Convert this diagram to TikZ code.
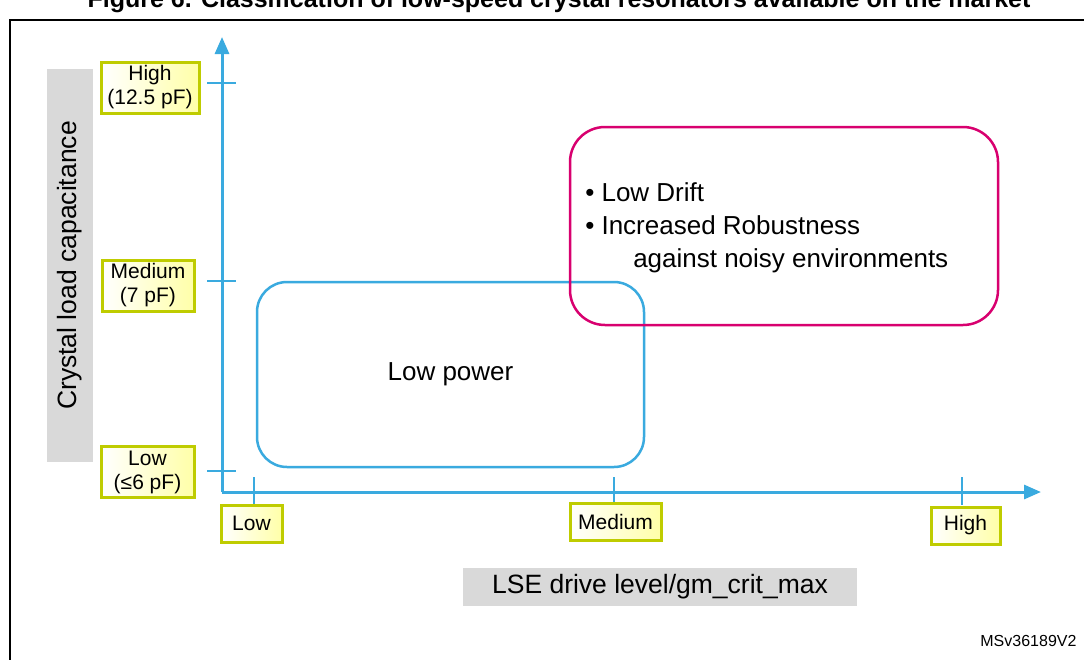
\documentclass[tikz,border=0pt]{standalone}
\usepackage{fontspec}
\setmainfont{Liberation Sans}
\usetikzlibrary{arrows.meta}

\definecolor{axisblue}{HTML}{3AAADF}
\definecolor{drivemagenta}{HTML}{D8006F}
\definecolor{tagolive}{HTML}{BFCC00}
\definecolor{tagyellow}{HTML}{FFFFA8}
\definecolor{titlegray}{HTML}{D9D9D9}

\tikzset{
	axis/.style={axisblue, line width=3pt, -{Triangle[length=17pt, width=14pt]}},
	tick/.style={axisblue, line width=2pt},
	tag/.style={draw=tagolive, line width=3pt, left color=white, right color=tagyellow,
		inner sep=0pt, align=center, font=\fontsize{21}{24}\selectfont},
	axistitle/.style={fill=titlegray, inner sep=0pt, font=\fontsize{26.5}{30}\selectfont},
	region/.style={line width=2.5pt, inner sep=0pt, font=\fontsize{26}{33}\selectfont},
}

\begin{document}
\begin{tikzpicture}[x=1pt, y=-1pt]
	\clip (0, 0) rectangle (1084, 659);
	\fill [white] (0, 0) rectangle (1084, 659);

	% Title and frame
	\node (title) [anchor=base, font=\bfseries\fontsize{25}{28}\selectfont]
	      at (559, 7)
	      {Figure 6. Classification of low-speed crystal resonators available on the market};
	\draw [line width=2pt] (10, 700) |- (1100, 20);

	% Axes
	\coordinate (origin) at (222, 492);
	\coordinate (ytop)   at (222, 37);
	\coordinate (xend)   at (1041, 492);
	\draw [axis] (origin) -- (ytop);
	\draw [axis] (origin) -- (xend);

	% Load capacitance ticks
	\foreach \y/\tx/\ty/\tw/\lab [count=\i] in
		{471/147.5/472/93/{Low\\(≤6 pF)},
		 281/148/285.5/92/{Medium\\(7 pF)},
		 83/150/87.5/98/{High\\(12.5 pF)}}{
		\draw [tick] (207, \y) -- (236, \y);
		\node (ylab\i) [tag, minimum width=\tw, minimum height=51]
		      at (\tx, \ty)
		      {\lab};
	}

	% Drive level ticks
	\foreach \x/\tx/\ty/\tw/\lab [count=\i] in
		{254/251.5/523.5/61/Low,
		 614/615.5/521.5/91/Medium,
		 962/965.5/525.5/69/High}{
		\draw [tick] (\x, 477) -- (\x, 505);
		\node (xlab\i) [tag, minimum width=\tw, minimum height=37]
		      at (\tx, \ty)
		      {\lab};
	}

	% Axis titles
	\node (ytitle) [axistitle, rotate=90, minimum width=393, minimum height=46]
	      at (70, 265.5)
	      {Crystal load capacitance};
	\node (xtitle) [axistitle, minimum width=394, minimum height=38]
	      at (660, 586.5)
	      {LSE drive level/gm\_crit\_max};

	% Regions
	\node (lowpower) [region, draw=axisblue, rounded corners=30pt,
	                  minimum width=387, minimum height=185]
	      at (450.5, 374.5)
	      {Low power};
	\node (robust) [region, draw=drivemagenta, rounded corners=35pt,
	                minimum width=428, minimum height=198]
	      at (784, 226)
	      {};
	\node (robusttext) [region, anchor=west, align=left]
	      at (584, 228)
	      {• Low Drift\\• Increased Robustness\\\hspace{48pt}against noisy environments};

	% Reference
	\node (ref) [anchor=base east, font=\fontsize{16}{19}\selectfont]
	      at (1080, 646)
	      {MSv36189V2};
\end{tikzpicture}
\end{document}
